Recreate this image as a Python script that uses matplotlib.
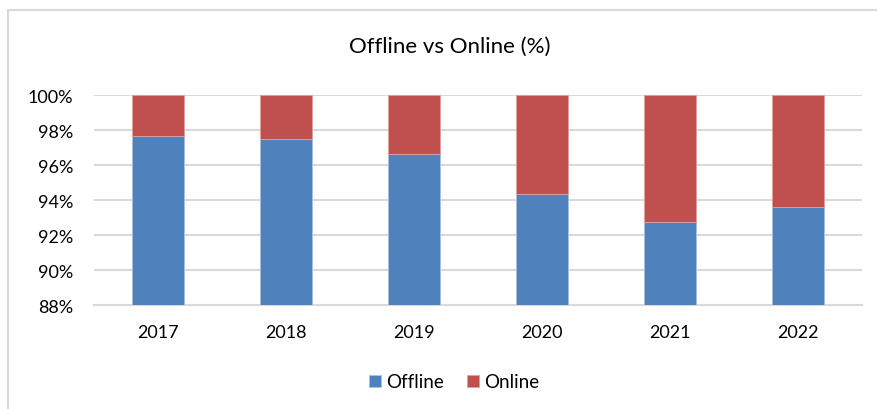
import numpy as np
import matplotlib.pyplot as plt
from matplotlib.patches import Rectangle

years = ["2017", "2018", "2019", "2020", "2021", "2022"]
offline = [97.67, 97.48, 96.62, 94.37, 92.77, 93.59]
online = [100 - v for v in offline]

plt.rcParams["font.family"] = ["Lato", "DejaVu Sans"]

W, H = 878, 410
fig = plt.figure(figsize=(W / 100, H / 100), dpi=100)

# outer chart border (cut off at right/bottom like the screenshot)
fig.patches.append(Rectangle((8 / W, -0.2), 1.2, 1.2 - 11 / H, transform=fig.transFigure,
                             fill=False, edgecolor="#d9d9d9", linewidth=1.5))

ax = fig.add_axes([94 / W, 1 - 306 / H, (862 - 94) / W, (306 - 96) / H])

x = np.arange(len(years))
ax.bar(x, offline, width=0.4, color="#4f81bd", edgecolor="#a9c1e0", linewidth=0.6,
       label="Offline", zorder=3)
ax.bar(x, online, width=0.4, bottom=offline, color="#c0504d", edgecolor="#e0a0a0",
       linewidth=0.6, label="Online", zorder=3)

ax.set_xlim(-0.5, len(years) - 0.5)
ax.set_ylim(88, 100)
ax.set_yticks(np.arange(88, 101, 2))
ax.set_yticklabels([f"{v}%" for v in range(88, 101, 2)])
ax.set_xticks(x)
ax.set_xticklabels(years)
ax.tick_params(length=0, labelsize=13, colors="#000000")
ax.tick_params(axis="y", pad=15)
ax.tick_params(axis="x", pad=14)
ax.grid(axis="y", color="#d9d9d9", linewidth=1.5, zorder=0)
for s in ["top", "left", "right"]:
    ax.spines[s].set_visible(False)
ax.spines["bottom"].set_color("#d9d9d9")
ax.spines["bottom"].set_linewidth(1.5)

fig.text(450 / W, 1 - 47 / H, "Offline vs Online (%)", ha="center", va="center", fontsize=16)
fig.legend(loc="center", bbox_to_anchor=(454 / W, 1 - 383 / H), ncol=2, frameon=False,
           fontsize=13.5, handlelength=0.65, handleheight=0.65, handletextpad=0.3,
           columnspacing=1.2)

fig.savefig("out.png", dpi=100)
